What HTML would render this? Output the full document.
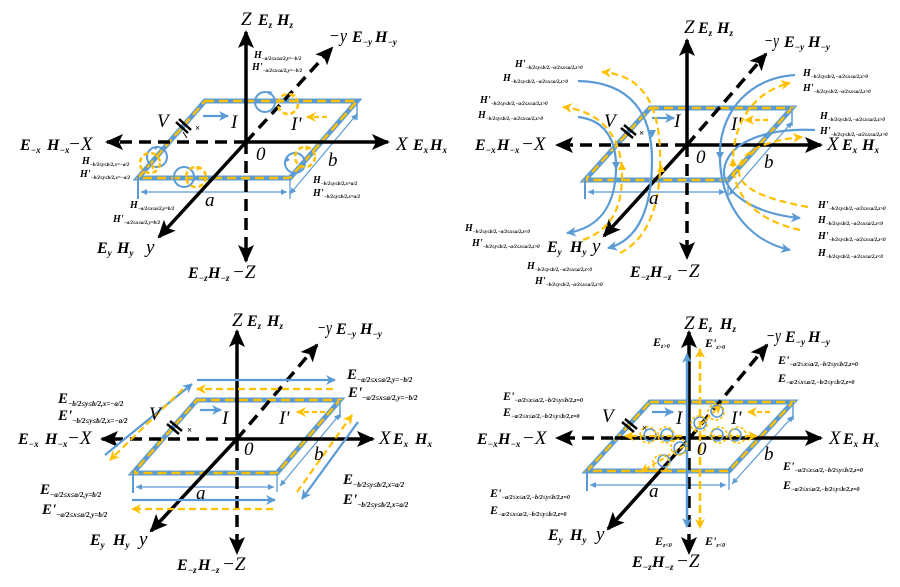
<!DOCTYPE html>
<html><head><meta charset="utf-8"><style>
html,body{margin:0;padding:0;background:#fff;}
svg{display:block;}
text{font-family:"Liberation Serif","DejaVu Serif",serif;fill:#000;}
.ax{font-style:italic;font-size:19px;}
.eh{font-style:italic;font-weight:bold;font-size:16px;}
.s{font-size:9px;}
.sm{font-style:italic;font-weight:bold;font-size:10px;}
.ss{font-size:5px;}
.me{font-style:italic;font-weight:bold;font-size:15px;}
.ms{font-size:7px;}
.mq{font-style:italic;font-weight:bold;font-size:12px;}
.mqs{font-size:6px;}
.bl{stroke:#5B9BD5;fill:none;}
.or{stroke:#FFC000;fill:none;}
.k{stroke:#000;fill:none;stroke-width:3.5;}
.kd{stroke:#000;fill:none;stroke-width:3.5;stroke-dasharray:12 7;}
</style></head><body>
<svg width="900" height="587" viewBox="0 0 900 587" xmlns="http://www.w3.org/2000/svg">
<defs>
<marker id="ak" markerUnits="userSpaceOnUse" markerWidth="18" markerHeight="16" viewBox="0 0 18 16" refX="16" refY="8" orient="auto"><path d="M0,0 L18,8 L0,16 L4,8 z" fill="#000"/></marker>
<marker id="ab" markerUnits="userSpaceOnUse" markerWidth="10" markerHeight="10" viewBox="0 0 10 10" refX="9" refY="5" orient="auto-start-reverse"><path d="M0,0 L10,5 L0,10 L3,5 z" fill="#5B9BD5"/></marker>
<marker id="ao" markerUnits="userSpaceOnUse" markerWidth="10" markerHeight="10" viewBox="0 0 10 10" refX="9" refY="5" orient="auto-start-reverse"><path d="M0,0 L10,5 L0,10 L3,5 z" fill="#FFC000"/></marker>
<marker id="ad" markerUnits="userSpaceOnUse" markerWidth="6" markerHeight="6" viewBox="0 0 6 6" refX="6" refY="3" orient="auto-start-reverse"><path d="M0,0 L6,3 L0,6 z" fill="#5B9BD5"/></marker>
</defs>
<rect width="900" height="587" fill="#fff"/>

<!-- ================= Q1 ================= -->
<g>
<polygon points="205,101 357,101 290,178 138,178" class="bl" stroke-width="5"/>
<polygon points="205,101 357,101 290,178 138,178" class="or" stroke-width="2.5" stroke-dasharray="9 5"/>
<line x1="138" y1="176" x2="138" y2="199" class="bl" stroke-width="2"/>
<line x1="290" y1="178" x2="290" y2="199" class="bl" stroke-width="1.3"/>
<line x1="357" y1="101" x2="357" y2="120" class="bl" stroke-width="1.5"/>
<line x1="141" y1="192" x2="287" y2="192" class="bl" stroke-width="1.2" marker-start="url(#ad)" marker-end="url(#ad)"/>
<line x1="290" y1="194" x2="357" y2="114" class="bl" stroke-width="1.2" marker-start="url(#ad)" marker-end="url(#ad)"/>
<line x1="246" y1="142" x2="246" y2="32" class="k" marker-end="url(#ak)"/>
<line x1="246" y1="142" x2="246" y2="261" class="kd" marker-end="url(#ak)"/>
<line x1="246" y1="142" x2="388" y2="142" class="k" marker-end="url(#ak)"/>
<line x1="246" y1="142" x2="107" y2="142" class="kd" marker-end="url(#ak)"/>
<line x1="246" y1="142" x2="159" y2="237" class="k" stroke-width="3" marker-end="url(#ak)"/>
<line x1="246" y1="142" x2="332" y2="48" class="kd" marker-end="url(#ak)"/>
<line x1="176" y1="122" x2="188" y2="133" stroke="#000" stroke-width="2.5"/>
<line x1="179" y1="119" x2="191" y2="130" stroke="#000" stroke-width="2.5"/>
<line x1="183" y1="132" x2="187" y2="138" stroke="#000" stroke-width="1"/>
<text x="195" y="131" font-size="9" font-weight="bold">×</text>
<line x1="203" y1="116" x2="228" y2="116" class="bl" stroke-width="2.2" marker-end="url(#ab)"/>
<line x1="327" y1="117" x2="307" y2="117" class="or" stroke-width="2.2" stroke-dasharray="5 3" marker-end="url(#ao)"/>
<circle cx="265" cy="102" r="10" class="bl" stroke-width="2"/>
<path d="M268,91 l5,1 l-4,3 z" fill="#5B9BD5"/>
<circle cx="288" cy="104" r="10" class="or" stroke-width="2.5" stroke-dasharray="5 3"/>
<path d="M291,93 l5,2 l-4,3 z" fill="#FFC000"/>
<circle cx="157" cy="157" r="10" class="bl" stroke-width="2"/>
<path d="M158,146 l-5,1 l3,3 z" fill="#5B9BD5"/>
<circle cx="150" cy="163" r="10" class="or" stroke-width="2.5" stroke-dasharray="5 3"/>
<path d="M152,170 l-1,-7 l4,4 z" fill="#FFC000"/>
<circle cx="184" cy="177" r="10" class="bl" stroke-width="2"/>
<circle cx="196" cy="177" r="10" class="or" stroke-width="2.5" stroke-dasharray="5 3"/>
<path d="M196,166 l5,2 l-4,3 z" fill="#FFC000"/>
<circle cx="295" cy="163" r="10" class="bl" stroke-width="2"/>
<path d="M287,157 l-1,5 l4,-2 z" fill="#5B9BD5"/>
<circle cx="305" cy="157" r="10" class="or" stroke-width="2.5" stroke-dasharray="5 3"/>
<path d="M305,146 l5,2 l-4,3 z" fill="#FFC000"/>
<text class="ax" x="241" y="25">Z</text>
<text class="eh" y="25"><tspan x="258">E</tspan><tspan class="s" dy="3">z</tspan><tspan x="277" dy="-3">H</tspan><tspan class="s" dy="3">z</tspan></text>
<text class="ax" x="329" y="42" font-size="17" textLength="18" lengthAdjust="spacingAndGlyphs">−y</text>
<text class="eh" y="42"><tspan x="352">E</tspan><tspan class="s" dy="3">−y</tspan><tspan x="375" dy="-3">H</tspan><tspan class="s" dy="3">−y</tspan></text>
<text class="ax" x="396" y="150">X</text>
<text class="eh" y="150"><tspan x="413">E</tspan><tspan class="s" dy="3">x</tspan><tspan x="430" dy="-3">H</tspan><tspan class="s" dy="3">x</tspan></text>
<text class="eh" y="150"><tspan x="20">E</tspan><tspan class="s" dy="3">−x</tspan><tspan x="47" dy="-3">H</tspan><tspan class="s" dy="3">−x</tspan></text>
<text class="ax" x="68" y="150" font-size="20">−X</text>
<text class="ax" x="256" y="160" font-size="17">0</text>
<text class="ax" x="328" y="166">b</text>
<text class="ax" x="205" y="206" font-size="21">a</text>
<text class="ax" x="157" y="127">V</text>
<text class="ax" x="231" y="128" font-size="20">I</text>
<text class="ax" x="291" y="130" font-size="20">I'</text>
<text class="eh" y="253"><tspan x="97">E</tspan><tspan class="s" dy="3">y</tspan><tspan x="117" dy="-3">H</tspan><tspan class="s" dy="3">y</tspan></text>
<text class="ax" x="146" y="253">y</text>
<text class="eh" y="278"><tspan x="188">E</tspan><tspan class="s" dy="3">−z</tspan><tspan x="208" dy="-3">H</tspan><tspan class="s" dy="3">−z</tspan></text>
<text class="ax" x="232" y="278" font-size="20">−Z</text>
<text class="sm" x="254" y="58">H<tspan class="ss" dy="2">−a/2≤x≤a/2,y=−b/2</tspan></text>
<text class="sm" x="252" y="70">H'<tspan class="ss" dy="2">−a/2≤x≤a/2,y=−b/2</tspan></text>
<text class="sm" x="82" y="164">H<tspan class="ss" dy="2">−b/2≤y≤b/2,x=−a/2</tspan></text>
<text class="sm" x="80" y="177">H'<tspan class="ss" dy="2">−b/2≤y≤b/2,x=−a/2</tspan></text>
<text class="sm" x="313" y="183">H<tspan class="ss" dy="2">−b/2≤y≤b/2,x=a/2</tspan></text>
<text class="sm" x="313" y="196">H'<tspan class="ss" dy="2">−b/2≤y≤b/2,x=a/2</tspan></text>
<text class="sm" x="130" y="208">H<tspan class="ss" dy="2">−a/2≤x≤a/2,y=b/2</tspan></text>
<text class="sm" x="113" y="222">H'<tspan class="ss" dy="2">−a/2≤x≤a/2,y=b/2</tspan></text>
</g>

<!-- ================= Q2 ================= -->
<g>
<polygon points="650,108 792,108 728,180 585,180" class="bl" stroke-width="5"/>
<polygon points="650,108 792,108 728,180 585,180" class="or" stroke-width="2.5" stroke-dasharray="9 5"/>
<line x1="585" y1="178" x2="585" y2="199" class="bl" stroke-width="2"/>
<line x1="728" y1="180" x2="728" y2="199" class="bl" stroke-width="1.3"/>
<line x1="792" y1="108" x2="792" y2="126" class="bl" stroke-width="1.5"/>
<line x1="588" y1="192" x2="725" y2="192" class="bl" stroke-width="1.2" marker-start="url(#ad)" marker-end="url(#ad)"/>
<line x1="729" y1="195" x2="792" y2="122" class="bl" stroke-width="1.2" marker-start="url(#ad)" marker-end="url(#ad)"/>
<line x1="687" y1="145" x2="687" y2="40" class="k" marker-end="url(#ak)"/>
<line x1="687" y1="145" x2="687" y2="258" class="kd" marker-end="url(#ak)"/>
<line x1="687" y1="145" x2="821" y2="145" class="k" marker-end="url(#ak)"/>
<line x1="687" y1="145" x2="557" y2="145" class="kd" marker-end="url(#ak)"/>
<line x1="687" y1="145" x2="604" y2="236" class="k" stroke-width="3" marker-end="url(#ak)"/>
<line x1="687" y1="145" x2="766" y2="54" class="kd" marker-end="url(#ak)"/>
<line x1="621" y1="128" x2="633" y2="138" stroke="#000" stroke-width="2.5"/>
<line x1="624" y1="125" x2="636" y2="135" stroke="#000" stroke-width="2.5"/>
<text x="639" y="136" font-size="9" font-weight="bold">×</text>
<line x1="652" y1="118" x2="674" y2="118" class="bl" stroke-width="2.2" marker-end="url(#ab)"/>
<line x1="768" y1="120" x2="745" y2="120" class="or" stroke-width="2.2" stroke-dasharray="5 3" marker-end="url(#ao)"/>
<path d="M578,81 C632,82 652,115 652,160 C652,205 640,240 608,248" class="bl" stroke-width="2.2" marker-end="url(#ab)"/>
<path d="M620,253 C650,238 662,200 660,150 C658,100 640,75 602,72" class="or" stroke-width="2.2" stroke-dasharray="7 4" marker-end="url(#ao)"/>
<path d="M578,117 C605,120 617,140 616,170 C615,205 600,228 567,233" class="bl" stroke-width="2.2" marker-end="url(#ab)"/>
<path d="M583,240 C610,230 622,210 622,175 C622,140 605,112 563,107" class="or" stroke-width="2.2" stroke-dasharray="7 4" marker-end="url(#ao)"/>
<path d="M648,130 l4,8 l4,-8 z" fill="#5B9BD5"/>
<path d="M612,162 l4,8 l4,-8 z" fill="#5B9BD5"/>
<path d="M618,170 l4,-8 l4,8 z" fill="#FFC000"/>
<path d="M657,172 l4,-8 l4,8 z" fill="#FFC000"/>
<path d="M795,75 C750,78 722,110 720,150 C718,200 745,240 790,250" class="bl" stroke-width="2.2" marker-end="url(#ab)"/>
<path d="M815,130 C770,128 728,140 724,170 C722,195 760,215 800,218" class="bl" stroke-width="2.2" marker-end="url(#ab)"/>
<path d="M800,230 C755,220 732,195 733,160 C734,115 760,90 790,83" class="or" stroke-width="2.2" stroke-dasharray="7 4" marker-end="url(#ao)"/>
<path d="M808,207 C770,200 740,190 739,172 C738,150 770,140 802,137" class="or" stroke-width="2.2" stroke-dasharray="7 4" marker-end="url(#ao)"/>
<path d="M716,152 l4,8 l4,-8 z" fill="#5B9BD5"/>
<path d="M729,166 l4,-8 l4,8 z" fill="#FFC000"/>
<text class="ax" x="684" y="33" font-size="17">Z</text>
<text class="eh" y="33"><tspan x="698">E</tspan><tspan class="s" dy="3">z</tspan><tspan x="717" dy="-3">H</tspan><tspan class="s" dy="3">z</tspan></text>
<text class="ax" x="764" y="47" font-size="16" textLength="15" lengthAdjust="spacingAndGlyphs">−y</text>
<text class="eh" y="47"><tspan x="784">E</tspan><tspan class="s" dy="3">−y</tspan><tspan x="808" dy="-3">H</tspan><tspan class="s" dy="3">−y</tspan></text>
<text class="eh" y="150"><tspan x="475">E</tspan><tspan class="s" dy="3">−x</tspan><tspan x="497" dy="-3">H</tspan><tspan class="s" dy="3">−x</tspan></text>
<text class="ax" x="521" y="150" font-size="20">−X</text>
<text class="ax" x="827" y="150">X</text>
<text class="eh" y="150"><tspan x="842">E</tspan><tspan class="s" dy="3">x</tspan><tspan x="862" dy="-3">H</tspan><tspan class="s" dy="3">x</tspan></text>
<text class="ax" x="696" y="163" font-size="17">0</text>
<text class="ax" x="764" y="168">b</text>
<text class="ax" x="649" y="204" font-size="20">a</text>
<text class="ax" x="604" y="127">V</text>
<text class="ax" x="674" y="127" font-size="20">I</text>
<text class="ax" x="731" y="130" font-size="20">I'</text>
<text class="eh" y="252"><tspan x="547">E</tspan><tspan class="s" dy="3">y</tspan><tspan x="570" dy="-3">H</tspan><tspan class="s" dy="3">y</tspan></text>
<text class="ax" x="592" y="252">y</text>
<text class="eh" y="277"><tspan x="630">E</tspan><tspan class="s" dy="3">−z</tspan><tspan x="650" dy="-3">H</tspan><tspan class="s" dy="3">−z</tspan></text>
<text class="ax" x="676" y="277" font-size="20">−Z</text>
<text class="sm" x="515" y="67">H'<tspan class="ss" dy="2">−b/2≤y≤b/2,−a/2≤x≤a/2,z&gt;0</tspan></text>
<text class="sm" x="503" y="81">H<tspan class="ss" dy="2">−b/2≤y≤b/2,−a/2≤x≤a/2,z&gt;0</tspan></text>
<text class="sm" x="480" y="103">H'<tspan class="ss" dy="2">−b/2≤y≤b/2,−a/2≤x≤a/2,z&gt;0</tspan></text>
<text class="sm" x="478" y="118">H<tspan class="ss" dy="2">−b/2≤y≤b/2,−a/2≤x≤a/2,z&gt;0</tspan></text>
<text class="sm" x="465" y="231">H<tspan class="ss" dy="2">−b/2≤y≤b/2,−a/2≤x≤a/2,z&lt;0</tspan></text>
<text class="sm" x="472" y="246">H'<tspan class="ss" dy="2">−b/2≤y≤b/2,−a/2≤x≤a/2,z&gt;0</tspan></text>
<text class="sm" x="527" y="269">H<tspan class="ss" dy="2">−b/2≤y≤b/2,−a/2≤x≤a/2,z&lt;0</tspan></text>
<text class="sm" x="535" y="284">H'<tspan class="ss" dy="2">−b/2≤y≤b/2,−a/2≤x≤a/2,z&gt;0</tspan></text>
<text class="sm" x="803" y="76">H<tspan class="ss" dy="2">−b/2≤y≤b/2,−a/2≤x≤a/2,z&gt;0</tspan></text>
<text class="sm" x="803" y="91">H'<tspan class="ss" dy="2">−b/2≤y≤b/2,−a/2≤x≤a/2,z&gt;0</tspan></text>
<text class="sm" x="820" y="119">H<tspan class="ss" dy="2">−b/2≤y≤b/2,−a/2≤x≤a/2,z&gt;0</tspan></text>
<text class="sm" x="820" y="134">H'<tspan class="ss" dy="2">−b/2≤y≤b/2,−a/2≤x≤a/2,z&gt;0</tspan></text>
<text class="sm" x="818" y="208">H'<tspan class="ss" dy="2">−b/2≤y≤b/2,−a/2≤x≤a/2,z&gt;0</tspan></text>
<text class="sm" x="818" y="223">H<tspan class="ss" dy="2">−b/2≤y≤b/2,−a/2≤x≤a/2,z&lt;0</tspan></text>
<text class="sm" x="818" y="239">H'<tspan class="ss" dy="2">−b/2≤y≤b/2,−a/2≤x≤a/2,z&lt;0</tspan></text>
<text class="sm" x="818" y="256">H<tspan class="ss" dy="2">−b/2≤y≤b/2,−a/2≤x≤a/2,z&lt;0</tspan></text>
</g>

<!-- ================= Q3 ================= -->
<g>
<polygon points="197,400 340,400 277,473 133,473" class="bl" stroke-width="5"/>
<polygon points="197,400 340,400 277,473 133,473" class="or" stroke-width="2.5" stroke-dasharray="9 5"/>
<line x1="133" y1="471" x2="133" y2="493" class="bl" stroke-width="2"/>
<line x1="277" y1="473" x2="277" y2="492" class="bl" stroke-width="1.3"/>
<line x1="340" y1="400" x2="340" y2="418" class="bl" stroke-width="1.5"/>
<line x1="136" y1="487" x2="274" y2="487" class="bl" stroke-width="1.2" marker-start="url(#ad)" marker-end="url(#ad)"/>
<line x1="280" y1="486" x2="340" y2="414" class="bl" stroke-width="1.2" marker-start="url(#ad)" marker-end="url(#ad)"/>
<line x1="237" y1="439" x2="237" y2="331" class="k" marker-end="url(#ak)"/>
<line x1="237" y1="439" x2="237" y2="553" class="kd" marker-end="url(#ak)"/>
<line x1="237" y1="439" x2="373" y2="439" class="k" marker-end="url(#ak)"/>
<line x1="237" y1="439" x2="102" y2="439" class="kd" marker-end="url(#ak)"/>
<line x1="237" y1="439" x2="151" y2="531" class="k" stroke-width="3" marker-end="url(#ak)"/>
<line x1="237" y1="439" x2="317" y2="345" class="kd" marker-end="url(#ak)"/>
<line x1="167" y1="424" x2="179" y2="434" stroke="#000" stroke-width="2.5"/>
<line x1="170" y1="421" x2="182" y2="431" stroke="#000" stroke-width="2.5"/>
<text x="187" y="433" font-size="9" font-weight="bold">×</text>
<line x1="200" y1="410" x2="221" y2="410" class="bl" stroke-width="2.2" marker-end="url(#ab)"/>
<line x1="325" y1="412" x2="297" y2="412" class="or" stroke-width="2.2" stroke-dasharray="5 3" marker-end="url(#ao)"/>
<line x1="197" y1="380" x2="335" y2="380" class="bl" stroke-width="2.2" marker-end="url(#ab)"/>
<line x1="333" y1="389" x2="197" y2="389" class="or" stroke-width="2.2" stroke-dasharray="7 4" marker-end="url(#ao)"/>
<line x1="132" y1="500" x2="275" y2="500" class="bl" stroke-width="2.2" marker-end="url(#ab)"/>
<line x1="273" y1="509" x2="132" y2="509" class="or" stroke-width="2.2" stroke-dasharray="7 4" marker-end="url(#ao)"/>
<line x1="105" y1="455" x2="192" y2="384" class="bl" stroke-width="2.2" marker-end="url(#ab)"/>
<line x1="183" y1="389" x2="110" y2="460" class="or" stroke-width="2.2" stroke-dasharray="7 4" marker-end="url(#ao)"/>
<line x1="297" y1="492" x2="352" y2="415" class="or" stroke-width="2.2" stroke-dasharray="7 4" marker-end="url(#ao)"/>
<line x1="358" y1="422" x2="302" y2="499" class="bl" stroke-width="2.2" marker-end="url(#ab)"/>
<text class="ax" x="232" y="326" font-size="17">Z</text>
<text class="eh" y="326"><tspan x="247">E</tspan><tspan class="s" dy="3">z</tspan><tspan x="267" dy="-3">H</tspan><tspan class="s" dy="3">z</tspan></text>
<text class="ax" x="317" y="334" font-size="16" textLength="15" lengthAdjust="spacingAndGlyphs">−y</text>
<text class="eh" y="334"><tspan x="336">E</tspan><tspan class="s" dy="3">−y</tspan><tspan x="360" dy="-3">H</tspan><tspan class="s" dy="3">−y</tspan></text>
<text class="eh" y="444"><tspan x="18">E</tspan><tspan class="s" dy="3">−x</tspan><tspan x="45" dy="-3">H</tspan><tspan class="s" dy="3">−x</tspan></text>
<text class="ax" x="67" y="444" font-size="20">−X</text>
<text class="ax" x="379" y="444">X</text>
<text class="eh" y="444"><tspan x="393">E</tspan><tspan class="s" dy="3">x</tspan><tspan x="415" dy="-3">H</tspan><tspan class="s" dy="3">x</tspan></text>
<text class="ax" x="244" y="455" font-size="17">0</text>
<text class="ax" x="314" y="460">b</text>
<text class="ax" x="196" y="499" font-size="20">a</text>
<text class="ax" x="149" y="420">V</text>
<text class="ax" x="222" y="424" font-size="20">I</text>
<text class="ax" x="279" y="424" font-size="20">I'</text>
<text class="eh" y="545"><tspan x="90">E</tspan><tspan class="s" dy="3">y</tspan><tspan x="113" dy="-3">H</tspan><tspan class="s" dy="3">y</tspan></text>
<text class="ax" x="139" y="545">y</text>
<text class="eh" y="570"><tspan x="177">E</tspan><tspan class="s" dy="3">−z</tspan><tspan x="198" dy="-3">H</tspan><tspan class="s" dy="3">−z</tspan></text>
<text class="ax" x="222" y="570" font-size="20">−Z</text>
<text class="me" x="347" y="379">E<tspan class="ms" dy="3">−a/2≤x≤a/2,y=−b/2</tspan></text>
<text class="me" x="348" y="397">E'<tspan class="ms" dy="3">−a/2≤x≤a/2,y=−b/2</tspan></text>
<text class="me" x="58" y="403">E<tspan class="ms" dy="3">−b/2≤y≤b/2,x=−a/2</tspan></text>
<text class="me" x="58" y="420">E'<tspan class="ms" dy="3">−b/2≤y≤b/2,x=−a/2</tspan></text>
<text class="me" x="40" y="494">E<tspan class="ms" dy="3">−a/2≤x≤a/2,y=b/2</tspan></text>
<text class="me" x="42" y="514">E'<tspan class="ms" dy="3">−a/2≤x≤a/2,y=b/2</tspan></text>
<text class="me" x="343" y="484">E<tspan class="ms" dy="3">−b/2≤y≤b/2,x=a/2</tspan></text>
<text class="me" x="343" y="504">E'<tspan class="ms" dy="3">−b/2≤y≤b/2,x=a/2</tspan></text>
</g>

<!-- ================= Q4 ================= -->
<g>
<polygon points="650,402 793,402 729,471 587,471" class="bl" stroke-width="5"/>
<polygon points="650,402 793,402 729,471 587,471" class="or" stroke-width="2.5" stroke-dasharray="9 5"/>
<line x1="587" y1="469" x2="587" y2="491" class="bl" stroke-width="2"/>
<line x1="729" y1="471" x2="729" y2="490" class="bl" stroke-width="1.3"/>
<line x1="793" y1="402" x2="793" y2="420" class="bl" stroke-width="1.5"/>
<line x1="590" y1="485" x2="726" y2="485" class="bl" stroke-width="1.2" marker-start="url(#ad)" marker-end="url(#ad)"/>
<line x1="732" y1="484" x2="793" y2="416" class="bl" stroke-width="1.2" marker-start="url(#ad)" marker-end="url(#ad)"/>
<line x1="689" y1="439" x2="689" y2="332" class="k" marker-end="url(#ak)"/>
<line x1="689" y1="439" x2="689" y2="553" class="kd" marker-end="url(#ak)"/>
<line x1="689" y1="438" x2="821" y2="438" class="k" marker-end="url(#ak)"/>
<line x1="689" y1="438" x2="557" y2="438" class="kd" marker-end="url(#ak)"/>
<line x1="689" y1="438" x2="615" y2="438" class="k" stroke-width="3"/>
<line x1="689" y1="439" x2="608" y2="529" class="k" stroke-width="3" marker-end="url(#ak)"/>
<line x1="689" y1="439" x2="767" y2="345" class="kd" marker-end="url(#ak)"/>
<line x1="687" y1="354" x2="687" y2="527" class="bl" stroke-width="2.5" marker-start="url(#ab)" marker-end="url(#ab)"/>
<line x1="700" y1="349" x2="700" y2="528" class="or" stroke-width="2.5" stroke-dasharray="8 4" marker-start="url(#ao)" marker-end="url(#ao)"/>
<line x1="682" y1="436" x2="625" y2="436" class="or" stroke-width="2.2" stroke-dasharray="6 3" marker-end="url(#ao)"/>
<line x1="700" y1="436" x2="757" y2="436" class="or" stroke-width="2.2" stroke-dasharray="6 3" marker-end="url(#ao)"/>
<line x1="684" y1="446" x2="641" y2="472" class="or" stroke-width="2" stroke-dasharray="5 3" marker-end="url(#ao)"/>
<line x1="695" y1="430" x2="721" y2="405" class="or" stroke-width="2" stroke-dasharray="5 3" marker-end="url(#ao)"/>
<g stroke-width="1.6">
<circle cx="650" cy="435" r="6" class="bl"/><circle cx="648" cy="435" r="8" class="or" stroke-dasharray="3 2"/>
<circle cx="667" cy="435" r="6" class="bl"/><circle cx="666" cy="435" r="8" class="or" stroke-dasharray="3 2"/>
<circle cx="717" cy="435" r="6" class="bl"/><circle cx="719" cy="435" r="8" class="or" stroke-dasharray="3 2"/>
<circle cx="735" cy="435" r="6" class="bl"/><circle cx="738" cy="435" r="8" class="or" stroke-dasharray="3 2"/>
<circle cx="680" cy="448" r="6" class="bl"/><circle cx="679" cy="447" r="8" class="or" stroke-dasharray="3 2"/>
<circle cx="664" cy="461" r="6" class="bl"/><circle cx="661" cy="463" r="8" class="or" stroke-dasharray="3 2"/>
<circle cx="700" cy="423" r="6" class="bl"/><circle cx="699" cy="424" r="8" class="or" stroke-dasharray="3 2"/>
<circle cx="717" cy="411" r="6" class="bl"/><circle cx="716" cy="412" r="8" class="or" stroke-dasharray="3 2"/>
</g>
<line x1="622" y1="422" x2="634" y2="432" stroke="#000" stroke-width="2.5"/>
<line x1="625" y1="419" x2="637" y2="429" stroke="#000" stroke-width="2.5"/>
<text x="642" y="431" font-size="9" font-weight="bold">×</text>
<line x1="652" y1="412" x2="673" y2="412" class="bl" stroke-width="2.2" marker-end="url(#ab)"/>
<line x1="770" y1="412" x2="748" y2="412" class="or" stroke-width="2.2" stroke-dasharray="5 3" marker-end="url(#ao)"/>
<text class="ax" x="684" y="329" font-size="17">Z</text>
<text class="eh" y="329"><tspan x="698">E</tspan><tspan class="s" dy="3">z</tspan><tspan x="720" dy="-3">H</tspan><tspan class="s" dy="3">z</tspan></text>
<text class="ax" x="766" y="342" font-size="16" textLength="15" lengthAdjust="spacingAndGlyphs">−y</text>
<text class="eh" y="342"><tspan x="785">E</tspan><tspan class="s" dy="3">−y</tspan><tspan x="808" dy="-3">H</tspan><tspan class="s" dy="3">−y</tspan></text>
<text class="eh" y="444"><tspan x="477">E</tspan><tspan class="s" dy="3">−x</tspan><tspan x="498" dy="-3">H</tspan><tspan class="s" dy="3">−x</tspan></text>
<text class="ax" x="522" y="444" font-size="20">−X</text>
<text class="ax" x="829" y="444">X</text>
<text class="eh" y="444"><tspan x="843">E</tspan><tspan class="s" dy="3">x</tspan><tspan x="862" dy="-3">H</tspan><tspan class="s" dy="3">x</tspan></text>
<text class="ax" x="697" y="455" font-size="17">0</text>
<text class="ax" x="764" y="460">b</text>
<text class="ax" x="649" y="497" font-size="20">a</text>
<text class="ax" x="602" y="422">V</text>
<text class="ax" x="676" y="424" font-size="20">I</text>
<text class="ax" x="731" y="424" font-size="20">I'</text>
<text class="eh" y="540"><tspan x="548">E</tspan><tspan class="s" dy="3">y</tspan><tspan x="570" dy="-3">H</tspan><tspan class="s" dy="3">y</tspan></text>
<text class="ax" x="596" y="540">y</text>
<text class="eh" y="567"><tspan x="632">E</tspan><tspan class="s" dy="3">−z</tspan><tspan x="652" dy="-3">H</tspan><tspan class="s" dy="3">−z</tspan></text>
<text class="ax" x="676" y="567" font-size="20">−Z</text>
<text class="mq" x="653" y="346">E<tspan class="mqs" dy="2">z&gt;0</tspan></text>
<text class="mq" x="705" y="347">E'<tspan class="mqs" dy="2">z&gt;0</tspan></text>
<text class="mq" x="655" y="545">E<tspan class="mqs" dy="2">z&lt;0</tspan></text>
<text class="mq" x="705" y="545">E'<tspan class="mqs" dy="2">z&lt;0</tspan></text>
<text class="mq" x="778" y="364">E'<tspan class="mqs" dy="2">−a/2≤x≤a/2,−b/2≤y≤b/2,z=0</tspan></text>
<text class="mq" x="778" y="382">E<tspan class="mqs" dy="2">−a/2≤x≤a/2,−b/2≤y≤b/2,z=0</tspan></text>
<text class="mq" x="503" y="400">E'<tspan class="mqs" dy="2">−a/2≤x≤a/2,−b/2≤y≤b/2,z=0</tspan></text>
<text class="mq" x="503" y="416">E<tspan class="mqs" dy="2">−a/2≤x≤a/2,−b/2≤y≤b/2,z=0</tspan></text>
<text class="mq" x="783" y="470">E'<tspan class="mqs" dy="2">−a/2≤x≤a/2,−b/2≤y≤b/2,z=0</tspan></text>
<text class="mq" x="783" y="489">E<tspan class="mqs" dy="2">−a/2≤x≤a/2,−b/2≤y≤b/2,z=0</tspan></text>
<text class="mq" x="490" y="497">E'<tspan class="mqs" dy="2">−a/2≤x≤a/2,−b/2≤y≤b/2,z=0</tspan></text>
<text class="mq" x="490" y="514">E<tspan class="mqs" dy="2">−a/2≤x≤a/2,−b/2≤y≤b/2,z=0</tspan></text>
</g>
</svg>
</body></html>
